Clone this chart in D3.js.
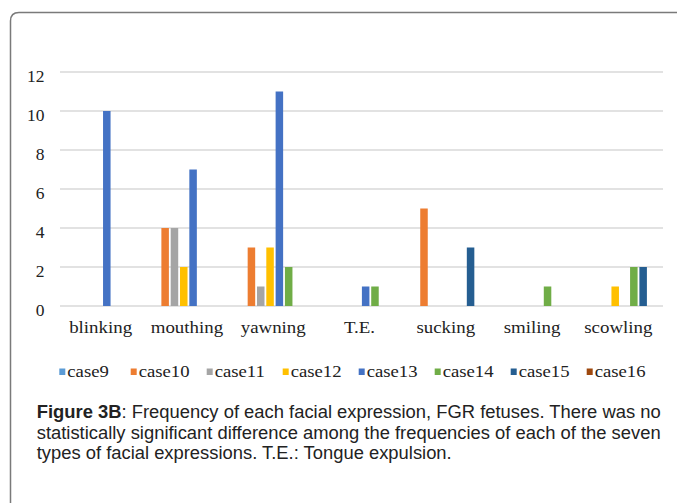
<!DOCTYPE html>
<html><head><meta charset="utf-8">
<script src="https://cdn.jsdelivr.net/npm/d3@7"></script>
<style>body{margin:0;background:#fff}svg{display:block}</style>
</head><body>
<svg id="c" width="677" height="503"></svg>
<script>
const categories = ["blinking","mouthing","yawning","T.E.","sucking","smiling","scowling"];
const series = ["case9","case10","case11","case12","case13","case14","case15","case16"];
const colors = ["#5B9BD5","#ED7D31","#A5A5A5","#FFC000","#4472C4","#70AD47","#255E91","#9E480E"];
// values per series, in category order
const case9  = [0,0,0,0,0,0,0];
const case10 = [0,4,3,0,5,0,0];
const case11 = [0,4,1,0,0,0,0];
const case12 = [0,2,3,0,0,0,1];
const case13 = [10,7,11,1,0,0,0];
const case14 = [0,0,2,1,0,1,2];
const case15 = [0,0,0,0,3,0,2];
const case16 = [0,0,0,0,0,0,0];
const values = [case9,case10,case11,case12,case13,case14,case15,case16];
const yTicks = [0,2,4,6,8,10,12];
const captionBold = "Figure 3B";
const captionLines = [
  ": Frequency of each facial expression, FGR fetuses. There was no",
  "statistically significant difference among the frequencies of each of the seven",
  "types of facial expressions. T.E.: Tongue expulsion."
];

const svg = d3.select("#c");
// frame
svg.append("path")
  .attr("d","M10.5,503 L10.5,21 Q10.5,12.5 19,12.5 L677,12.5")
  .attr("fill","none").attr("stroke","#7a7a7a").attr("stroke-width",1.5);

const x0 = d3.scaleBand().domain(categories).range([59,663]).padding(0);
const x1 = d3.scaleBand().domain(series).range([0,x0.bandwidth()]).paddingInner(0.1935).paddingOuter(0.728);
const y = d3.scaleLinear().domain([0,12]).range([306,72]);

// grid
svg.append("g").selectAll("line").data(yTicks).join("line")
  .attr("x1",60).attr("x2",663)
  .attr("y1",d=>y(d)).attr("y2",d=>y(d))
  .attr("stroke","#d9d9d9").attr("stroke-width",1.5);

const serif = "'Liberation Serif','Times New Roman',serif";
// y labels
svg.append("g").selectAll("text").data(yTicks).join("text")
  .attr("transform",d=>`translate(44.5,${y(d)+9.8}) scale(1.06,1)`)
  .attr("text-anchor","end").attr("font-family",serif).attr("font-size",16.5)
  .attr("fill","#222").text(d=>d);

// bars
const g = svg.append("g");
series.forEach((s,si)=>{
  g.append("g").selectAll("rect").data(values[si].map((v,ci)=>({c:categories[ci],v}))).join("rect")
    .filter(d=>d.v>0)
    .attr("x",d=>x0(d.c)+x1(s)).attr("width",x1.bandwidth())
    .attr("y",d=>y(d.v)).attr("height",d=>y(0)-y(d.v))
    .attr("fill",colors[si]);
});

// category labels
svg.append("g").selectAll("text").data(categories).join("text")
  .attr("transform",d=>`translate(${x0(d)+x0.bandwidth()/2-1.5},333.3) scale(1.08,1)`)
  .attr("text-anchor","middle").attr("font-family",serif).attr("font-size",17.5)
  .attr("fill","#222").text(d=>d);

// legend
const legendX = [59.3,130.7,206.7,282.7,358.7,434.7,510.7,586.7];
const lg = svg.append("g").selectAll("g").data(series).join("g")
  .attr("transform",(d,i)=>`translate(${legendX[i]},0)`);
lg.append("rect").attr("x",0).attr("y",368.5).attr("width",6).attr("height",6.5)
  .attr("fill",(d,i)=>colors[i]);
lg.append("text").attr("transform","translate(8,376.5) scale(1.1,1)")
  .attr("font-family",serif).attr("font-size",17).attr("fill","#222").text(d=>d);

// caption
const sans = "'Liberation Sans',Arial,sans-serif";
const cap = svg.append("g").attr("font-family",sans).attr("font-size",17.5).attr("fill","#222");
const t1 = cap.append("text").attr("x",36.7).attr("y",418)
  .attr("textLength",624).attr("lengthAdjust","spacingAndGlyphs");
t1.append("tspan").attr("font-weight","bold").text(captionBold);
t1.append("tspan").text(captionLines[0]);
cap.append("text").attr("x",36.7).attr("y",438.5).attr("textLength",624)
  .attr("lengthAdjust","spacingAndGlyphs").text(captionLines[1]);
cap.append("text").attr("x",36.7).attr("y",459).attr("textLength",415)
  .attr("lengthAdjust","spacingAndGlyphs").text(captionLines[2]);
</script>
</body></html>
